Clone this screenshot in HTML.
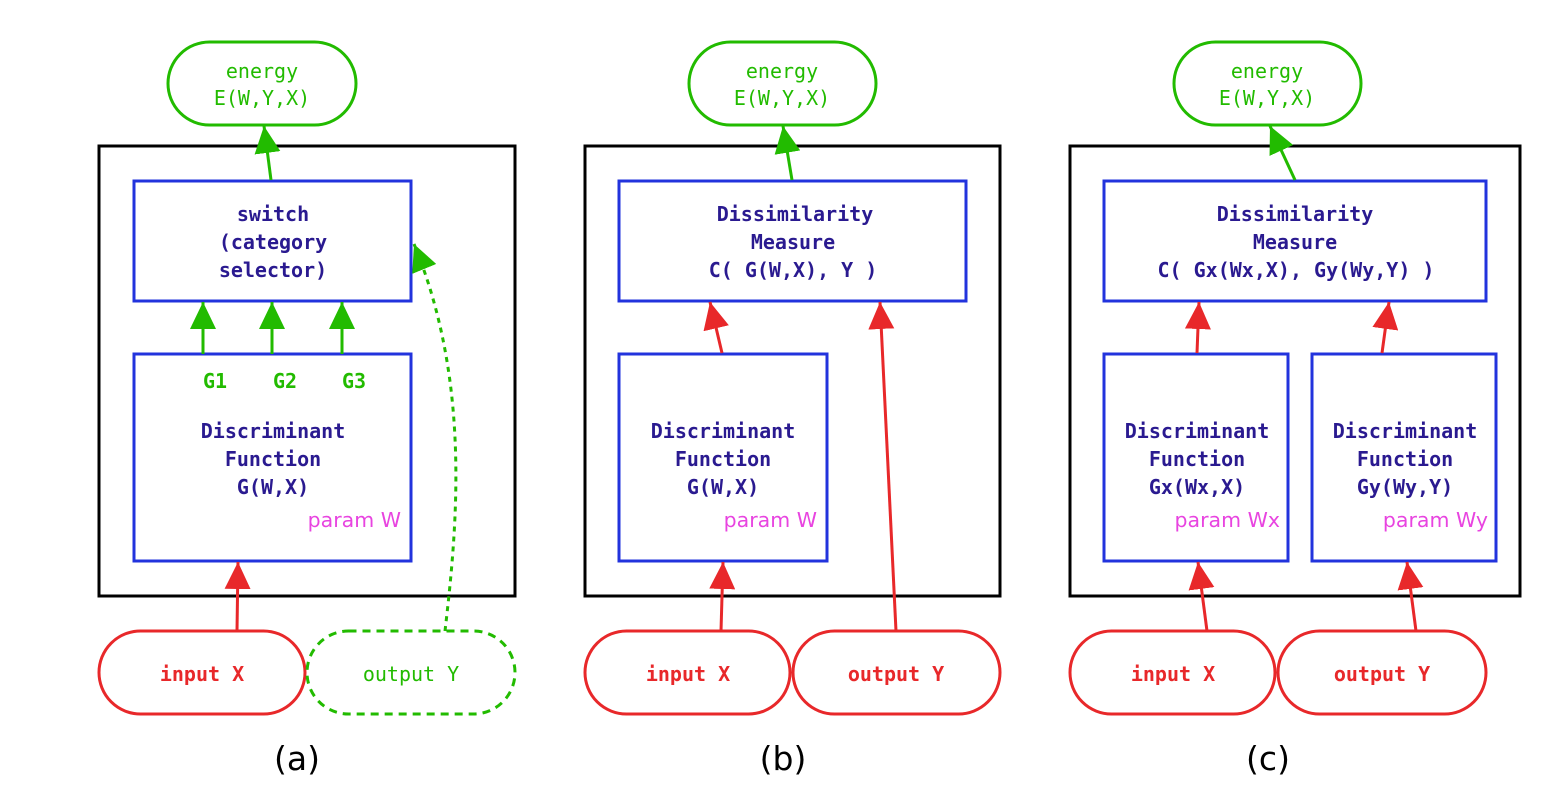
<!DOCTYPE html>
<html><head><meta charset="utf-8"><style>
html,body{margin:0;padding:0;background:#fff}
svg{display:block}
.m{font-family:"DejaVu Sans Mono","Liberation Mono",monospace;font-size:20px;text-anchor:middle}
.b{font-weight:bold;fill:#2a1a90}
.g{fill:#22bb00}
.r{fill:#e8282a;font-weight:bold}
.p{font-family:"DejaVu Sans","Liberation Sans",sans-serif;font-size:20.5px;fill:#e844e0;text-anchor:end}
.l{font-family:"DejaVu Sans","Liberation Sans",sans-serif;font-size:33px;text-anchor:middle;fill:#000}
</style></head><body>
<svg width="1556" height="803" viewBox="0 0 1556 803" xmlns="http://www.w3.org/2000/svg">
<defs>
<marker id="ag" markerUnits="userSpaceOnUse" markerWidth="27" markerHeight="26" refX="27" refY="13" orient="auto"><path d="M0,0 L27,13 L0,26z" fill="#22bb00"/></marker>
<marker id="ar" markerUnits="userSpaceOnUse" markerWidth="27" markerHeight="26" refX="27" refY="13" orient="auto"><path d="M0,0 L27,13 L0,26z" fill="#e8282a"/></marker>
</defs>
<g fill="none" stroke-width="3">
<rect x="99" y="146" width="416" height="450" stroke="#000"/>
<rect x="168" y="42" width="188" height="83" rx="41.5" stroke="#22bb00"/>
<rect x="134" y="181" width="277" height="120" stroke="#2233dd"/>
<rect x="134" y="354" width="277" height="207" stroke="#2233dd"/>
<rect x="99" y="631" width="206" height="83" rx="41.5" stroke="#e8282a"/>
<rect x="307" y="631" width="208" height="83" rx="41.5" stroke="#22bb00" stroke-dasharray="8,6"/>
<line x1="271" y1="180" x2="264" y2="126" stroke="#22bb00" marker-end="url(#ag)"/>
<line x1="203" y1="354" x2="203" y2="302" stroke="#22bb00" marker-end="url(#ag)"/>
<line x1="272" y1="354" x2="272" y2="302" stroke="#22bb00" marker-end="url(#ag)"/>
<line x1="342" y1="354" x2="342" y2="302" stroke="#22bb00" marker-end="url(#ag)"/>
<line x1="237" y1="631" x2="238" y2="562" stroke="#e8282a" marker-end="url(#ar)"/>
<path d="M445,631 C458,520 470,380 414,244" stroke="#22bb00" stroke-dasharray="5,5" marker-end="url(#ag)"/>
<rect x="585" y="146" width="415" height="450" stroke="#000"/>
<rect x="689" y="42" width="187" height="83" rx="41.5" stroke="#22bb00"/>
<rect x="619" y="181" width="347" height="120" stroke="#2233dd"/>
<rect x="619" y="354" width="208" height="207" stroke="#2233dd"/>
<rect x="585" y="631" width="205" height="83" rx="41.5" stroke="#e8282a"/>
<rect x="793" y="631" width="207" height="83" rx="41.5" stroke="#e8282a"/>
<line x1="792" y1="180" x2="783" y2="126" stroke="#22bb00" marker-end="url(#ag)"/>
<line x1="722" y1="353" x2="710" y2="302" stroke="#e8282a" marker-end="url(#ar)"/>
<line x1="896" y1="631" x2="880" y2="302" stroke="#e8282a" marker-end="url(#ar)"/>
<line x1="721" y1="631" x2="723" y2="562" stroke="#e8282a" marker-end="url(#ar)"/>
<rect x="1070" y="146" width="450" height="450" stroke="#000"/>
<rect x="1174" y="42" width="187" height="83" rx="41.5" stroke="#22bb00"/>
<rect x="1104" y="181" width="382" height="120" stroke="#2233dd"/>
<rect x="1104" y="354" width="184" height="207" stroke="#2233dd"/>
<rect x="1312" y="354" width="184" height="207" stroke="#2233dd"/>
<rect x="1070" y="631" width="205" height="83" rx="41.5" stroke="#e8282a"/>
<rect x="1278" y="631" width="208" height="83" rx="41.5" stroke="#e8282a"/>
<line x1="1295" y1="180" x2="1270" y2="126" stroke="#22bb00" marker-end="url(#ag)"/>
<line x1="1197" y1="353" x2="1199" y2="302" stroke="#e8282a" marker-end="url(#ar)"/>
<line x1="1382" y1="353" x2="1389" y2="302" stroke="#e8282a" marker-end="url(#ar)"/>
<line x1="1207" y1="631" x2="1198" y2="562" stroke="#e8282a" marker-end="url(#ar)"/>
<line x1="1416" y1="631" x2="1407" y2="562" stroke="#e8282a" marker-end="url(#ar)"/>
</g>
<text class="m g" x="262" y="78">energy</text>
<text class="m g" x="262" y="105">E(W,Y,X)</text>
<text class="m b" x="273" y="221">switch</text>
<text class="m b" x="273" y="249">(category</text>
<text class="m b" x="273" y="277">selector)</text>
<text class="m g" x="215" y="388" font-weight="bold">G1</text>
<text class="m g" x="285" y="388" font-weight="bold">G2</text>
<text class="m g" x="354" y="388" font-weight="bold">G3</text>
<text class="m b" x="273" y="438">Discriminant</text>
<text class="m b" x="273" y="466">Function</text>
<text class="m b" x="273" y="494">G(W,X)</text>
<text class="p" x="401" y="527">param W</text>
<text class="m r" x="202" y="681">input X</text>
<text class="m g" x="411" y="681">output Y</text>
<text class="l" x="297" y="770">(a)</text>
<text class="m g" x="782" y="78">energy</text>
<text class="m g" x="782" y="105">E(W,Y,X)</text>
<text class="m b" x="795" y="221">Dissimilarity</text>
<text class="m b" x="793" y="249">Measure</text>
<text class="m b" x="793" y="277">C( G(W,X), Y )</text>
<text class="m b" x="723" y="438">Discriminant</text>
<text class="m b" x="723" y="466">Function</text>
<text class="m b" x="723" y="494">G(W,X)</text>
<text class="p" x="817" y="527">param W</text>
<text class="m r" x="688" y="681">input X</text>
<text class="m r" x="896" y="681">output Y</text>
<text class="l" x="783" y="770">(b)</text>
<text class="m g" x="1267" y="78">energy</text>
<text class="m g" x="1267" y="105">E(W,Y,X)</text>
<text class="m b" x="1295" y="221">Dissimilarity</text>
<text class="m b" x="1295" y="249">Measure</text>
<text class="m b" x="1296" y="277">C( Gx(Wx,X), Gy(Wy,Y) )</text>
<text class="m b" x="1197" y="438">Discriminant</text>
<text class="m b" x="1197" y="466">Function</text>
<text class="m b" x="1197" y="494">Gx(Wx,X)</text>
<text class="p" x="1280" y="527">param Wx</text>
<text class="m b" x="1405" y="438">Discriminant</text>
<text class="m b" x="1405" y="466">Function</text>
<text class="m b" x="1405" y="494">Gy(Wy,Y)</text>
<text class="p" x="1488" y="527">param Wy</text>
<text class="m r" x="1173" y="681">input X</text>
<text class="m r" x="1382" y="681">output Y</text>
<text class="l" x="1268" y="770">(c)</text>
</svg>
</body></html>
